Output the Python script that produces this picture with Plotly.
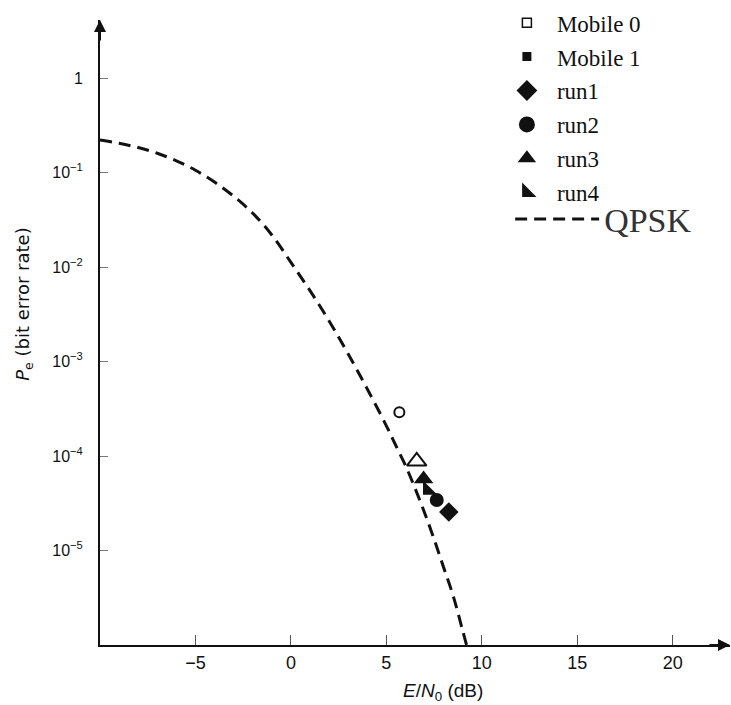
import plotly.graph_objects as go

# ---- data ----
qpsk_x = [-10, -9, -8, -7, -6, -5, -4, -3, -2, -1, 0, 1, 2, 3, 4, 5, 5.5, 6, 6.5, 7, 7.5, 8, 8.5, 9, 9.2]
qpsk_logy = [-0.656, -0.69, -0.735, -0.795, -0.875, -0.975, -1.10, -1.25, -1.43, -1.66, -1.95, -2.25, -2.57,
             -2.92, -3.29, -3.68, -3.89, -4.10, -4.34, -4.60, -4.88, -5.18, -5.48, -5.85, -6.0]
qpsk_y = [10 ** v for v in qpsk_logy]

mobile0_x = [5.68, 6.59]
mobile0_y = [2.9e-4, 8.8e-5]
mobile0_run = ["run2", "run3"]

mobile1_x = [6.95, 7.17, 7.64, 8.27]
mobile1_y = [5.7e-5, 4.37e-5, 3.43e-5, 2.56e-5]
mobile1_run = ["run3", "run4", "run2", "run1"]

run_names = ["run1", "run2", "run3", "run4"]
run_symbols = {"run1": "diamond", "run2": "circle", "run3": "triangle-up", "run4": "triangle-sw"}
run_sizes = {"run1": 15, "run2": 14, "run3": 17, "run4": 16}

y_tickvals = [1, 1e-1, 1e-2, 1e-3, 1e-4, 1e-5]
y_ticktext = ["1", "10<sup>−1</sup>", "10<sup>−2</sup>", "10<sup>−3</sup>", "10<sup>−4</sup>", "10<sup>−5</sup>"]
x_tickvals = [-5, 0, 5, 10, 15, 20]
x_ticktext = ["−5", "0", "5", "10", "15", "20"]

INK = "#111111"
fig = go.Figure()

# QPSK curve (own legend so its key line and label can be larger)
fig.add_trace(go.Scatter(x=qpsk_x, y=qpsk_y, mode="lines", name="QPSK", legend="legend2",
                         line=dict(color=INK, width=3, dash="12px,7px", shape="spline")))

# measured points (open = Mobile 0, filled = Mobile 1)
for i, r in enumerate(mobile0_run):
    fig.add_trace(go.Scatter(x=[mobile0_x[i]], y=[mobile0_y[i]], mode="markers", showlegend=False,
                             marker=dict(symbol=run_symbols[r] + "-open", size=run_sizes[r] if r != "run2" else 10,
                                         color=INK, line=dict(width=2, color=INK))))
for i, r in enumerate(mobile1_run):
    fig.add_trace(go.Scatter(x=[mobile1_x[i]], y=[mobile1_y[i]], mode="markers", showlegend=False,
                             marker=dict(symbol=run_symbols[r], size=run_sizes[r], color=INK,
                                         line=dict(width=0))))

# legend keys
fig.add_trace(go.Scatter(x=[None], y=[None], mode="markers", name="Mobile 0", legendgroup="g1", legendrank=1,
                         marker=dict(symbol="square-open", size=9, color=INK, line=dict(width=1.5, color=INK))))
fig.add_trace(go.Scatter(x=[None], y=[None], mode="markers", name="Mobile 1", legendgroup="g2", legendrank=2,
                         marker=dict(symbol="square", size=9, color=INK)))
for k, r in enumerate(run_names):
    fig.add_trace(go.Scatter(x=[None], y=[None], mode="markers", name=r, legendgroup="g%d" % (k + 3),
                             legendrank=k + 3,
                             marker=dict(symbol=run_symbols[r], size=16, color=INK)))

fig.update_layout(
    width=731, height=705,
    margin=dict(l=100, r=1, t=15, b=60),
    paper_bgcolor="white", plot_bgcolor="white",
    font=dict(family="Liberation Sans, Arial, sans-serif", size=14, color=INK),
    showlegend=True,
    legend=dict(x=0.63, y=1.03, xanchor="left", yanchor="top", bgcolor="rgba(0,0,0,0)",
                font=dict(family="Liberation Serif, Times New Roman, serif", size=23, color=INK),
                traceorder="grouped", tracegroupgap=1, itemwidth=50, itemsizing="trace"),
    legend2=dict(x=0.651, y=0.681, xanchor="left", yanchor="middle", bgcolor="rgba(0,0,0,0)",
                 font=dict(family="Liberation Serif, Times New Roman, serif", size=34, color="#333"),
                 itemwidth=84),
    xaxis=dict(range=[-10, 23], showgrid=False, zeroline=False, showline=True, linecolor=INK, linewidth=2,
               ticks="inside", ticklen=10, tickwidth=1, tickcolor="#555",
               tickvals=x_tickvals, ticktext=x_ticktext, ticklabelstandoff=0,
               tickfont=dict(size=18)),
    yaxis=dict(type="log", range=[-6.0, 0.615], showgrid=False, zeroline=False, showline=True, linecolor=INK,
               linewidth=2, ticks="inside", ticklen=8, tickwidth=1, tickcolor="#777",
               tickvals=y_tickvals, ticktext=y_ticktext, ticklabelstandoff=12,
               tickfont=dict(size=16)),
    annotations=[
        dict(xref="paper", yref="paper", x=0, y=1, ax=0, ay=22, showarrow=True, arrowhead=2, arrowsize=1.2,
             arrowwidth=2, arrowcolor=INK, text=""),
        dict(xref="paper", yref="paper", x=1, y=0, ax=-22, ay=0, showarrow=True, arrowhead=2, arrowsize=1.2,
             arrowwidth=2, arrowcolor=INK, text=""),
        dict(xref="paper", yref="paper", x=0.545, y=-0.075, xanchor="center", yanchor="middle", showarrow=False,
             text="<i>E</i>/<i>N</i><sub>0</sub> (dB)", font=dict(size=19)),
        dict(xref="paper", yref="paper", x=-0.12, y=0.545, xanchor="center", yanchor="middle", showarrow=False,
             textangle=-90, text="<i>P</i><sub>e</sub> (bit error rate)",
             font=dict(size=18, family="DejaVu Sans, sans-serif")),
    ],
)

fig.write_html("out.html")
